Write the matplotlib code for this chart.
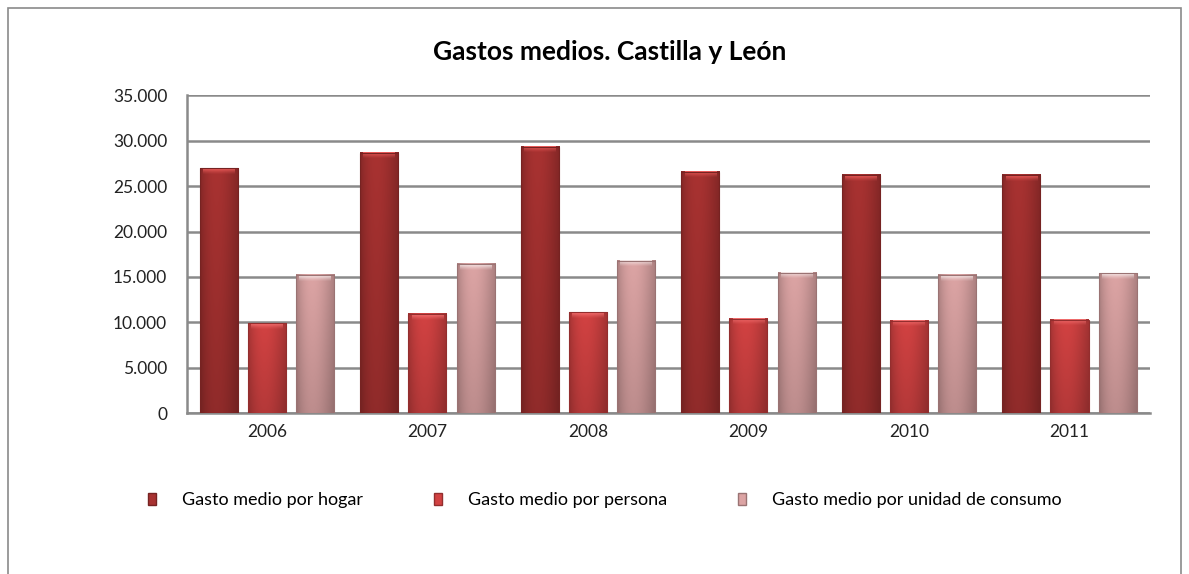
import numpy as np
import matplotlib.pyplot as plt
from matplotlib.colors import to_rgb
from matplotlib.patches import Rectangle

plt.rcParams['font.family'] = ['Lato', 'DejaVu Sans']

years = ['2006', '2007', '2008', '2009', '2010', '2011']
hogar = [26950, 28700, 29300, 26600, 26200, 26200]
persona = [9900, 10900, 11100, 10400, 10150, 10300]
consumo = [15200, 16400, 16800, 15450, 15200, 15400]
series_names = ['Gasto medio por hogar', 'Gasto medio por persona',
                'Gasto medio por unidad de consumo']
series_colors = ['#a83231', '#d24242', '#dca4a4']


def shaded_bar(ax, x, w, h, color):
    base = np.array(to_rgb(color))
    # darker at the edges, lighter in the middle
    t = np.linspace(0, 1, 40)
    shade = 0.78 + 0.22 * np.sin(np.pi * t ** 0.8)
    # a bit darker towards the bottom
    vert = np.linspace(0.86, 1.0, 30)
    img = np.clip(base[None, None, :] * shade[None, :, None] * vert[:, None, None], 0, 1)
    ax.imshow(img, extent=[x - w / 2, x + w / 2, 0, h], aspect='auto',
              interpolation='bilinear', zorder=3, origin='lower')
    # soft light cap at the top
    cap_col = np.clip(base * 1.3 + 0.15, 0, 1)
    rgba = np.zeros((12, 40, 4))
    rgba[..., :3] = cap_col
    rgba[..., 3] = (np.linspace(0, 1, 12)[:, None] ** 1.5) * 0.85
    ax.imshow(rgba, extent=[x - w / 2 + 0.02, x + w / 2 - 0.02, h - 700, h],
              aspect='auto', origin='lower', interpolation='bilinear', zorder=4)
    ax.add_patch(Rectangle((x - w / 2, 0), w, h, facecolor='none',
                           edgecolor=base * 0.7, linewidth=0.8, zorder=5))


fig = plt.figure(figsize=(11.89, 5.74), dpi=100)
ax = fig.add_axes([0.157, 0.280, 0.810, 0.554])

x = np.arange(len(years))
w = 0.237
offs = [-0.30, 0.0, 0.30]
for data, off, col in zip([hogar, persona, consumo], offs, series_colors):
    for xi, val in zip(x, data):
        shaded_bar(ax, xi + off, w, val, col)

ax.set_xlim(-0.5, len(years) - 0.5)
ax.set_ylim(0, 35000)
ax.set_yticks(np.arange(0, 35001, 5000))
ax.set_yticklabels(['0' if v == 0 else f'{v // 1000}.000' for v in range(0, 35001, 5000)])
ax.set_xticks(x)
ax.set_xticklabels(years)
ax.tick_params(axis='both', labelsize=12.5, length=0, colors='#222222', pad=8)
ax.tick_params(axis='y', pad=14)
ax.yaxis.grid(True, color='#8a8a8a', linewidth=1.8, zorder=1)
ax.set_axisbelow(True)
for s in ['top', 'right']:
    ax.spines[s].set_visible(False)
for s in ['left', 'bottom']:
    ax.spines[s].set_color('#8a8a8a')
    ax.spines[s].set_linewidth(1.8)

fig.text(0.513, 0.909, 'Gastos medios. Castilla y León', ha='center', va='center',
         fontsize=19, fontweight='bold')

# legend
handles = [Rectangle((0, 0), 1, 1, facecolor=c, edgecolor=np.array(to_rgb(c)) * 0.7)
           for c in series_colors]
fig.legend(handles, series_names, loc='center left', bbox_to_anchor=(0.1245, 0.129),
           ncol=3, frameon=False, fontsize=13, handlelength=0.45, handleheight=0.65,
           columnspacing=3.9, handletextpad=1.45, borderpad=0, borderaxespad=0)

fig.add_artist(Rectangle((0.007, -0.01), 0.986, 0.996, transform=fig.transFigure,
                         facecolor='none', edgecolor='#8a8a8a', linewidth=1.2))

fig.savefig('out.png', dpi=100)
